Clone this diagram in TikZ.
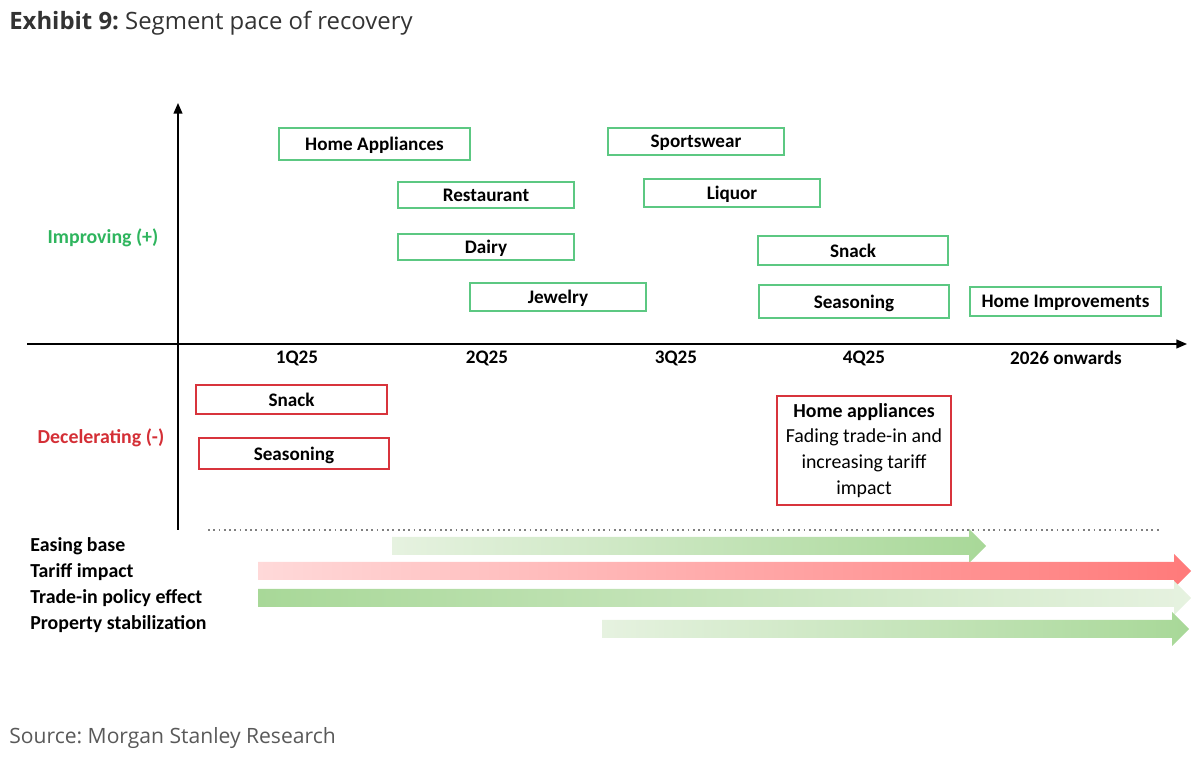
\documentclass[tikz,border=0pt]{standalone}
\usepackage{fontspec}
\setmainfont{Carlito}
\newfontfamily\titlefont{Open Sans}
\usetikzlibrary{arrows.meta}
\frenchspacing
\definecolor{gbox}{HTML}{5CC882}
\definecolor{gtext}{HTML}{2FB55E}
\definecolor{rbox}{HTML}{D8343C}
\definecolor{rtext}{HTML}{D42F36}
\definecolor{gdark}{HTML}{A8D898}
\definecolor{glight}{HTML}{E6F2E0}
\definecolor{rdark}{HTML}{FF7A7A}
\definecolor{rlight}{HTML}{FFD9D9}
\tikzset{
  gbx/.style={draw=gbox, line width=0.9pt, inner sep=0pt, text depth=0pt, font=\fontsize{10.9}{12}\selectfont\bfseries},
  rbx/.style={draw=rbox, line width=0.9pt, inner sep=0pt, text depth=0pt, font=\fontsize{10.9}{12}\selectfont\bfseries},
  qlab/.style={font=\fontsize{10.9}{12}\selectfont\bfseries},
  flab/.style={anchor=west, inner sep=0pt, font=\fontsize{11.3}{12}\selectfont\bfseries},
  axis/.style={line width=0.8pt, -{Triangle[length=6pt,width=5pt]}},
}
\newcommand\fatarrow[5]{%
  \shade[left color=#4, right color=#5]
   (#1,#3-9) -- (#2-17,#3-9) -- (#2-17,#3-17) -- (#2,#3) -- (#2-17,#3+17) -- (#2-17,#3+9) -- (#1,#3+9) -- cycle;}
\begin{document}
\begin{tikzpicture}[x=0.02cm,y=-0.02cm]
\useasboundingbox (0,0) rectangle (1200,759);
% title
\node[anchor=west, inner sep=0pt, text=black!80, font=\titlefont\fontsize{13.6}{15}\selectfont] (title) at (9,23) {\textbf{Exhibit 9:} Segment pace of recovery};
% axes
\coordinate (yb) at (178,530);
\coordinate (yt) at (178,103);
\coordinate (xl) at (27,344);
\coordinate (xr) at (1187,344);
\draw[axis] (yb) -- (yt);
\draw[axis] (xl) -- (xr);
% axis labels
\node[qlab] (q1) at (297,358) {1Q25};
\node[qlab] (q2) at (487,358) {2Q25};
\node[qlab] (q3) at (676,358) {3Q25};
\node[qlab] (q4) at (864,358) {4Q25};
\node[qlab] (q5) at (1066,358) {2026 onwards};
\node[qlab, text=gtext, font=\fontsize{11.3}{12}\selectfont\bfseries] (imp) at (103,238) {Improving (+)};
\node[qlab, text=rtext, font=\fontsize{11.3}{12}\selectfont\bfseries] (dec) at (101,438) {Decelerating (-)};
% green boxes
\node[gbx, minimum width=191*0.02cm, minimum height=32*0.02cm] (ha) at (374.5,144) {Home Appliances};
\node[gbx, minimum width=176*0.02cm, minimum height=26*0.02cm] (rest) at (486,195) {Restaurant};
\node[gbx, minimum width=176*0.02cm, minimum height=26*0.02cm] (dairy) at (486,247) {Dairy};
\node[gbx, minimum width=176*0.02cm, minimum height=28*0.02cm] (jew) at (558,297) {Jewelry};
\node[gbx, minimum width=176*0.02cm, minimum height=27*0.02cm] (sport) at (696,141.5) {Sportswear};
\node[gbx, minimum width=176*0.02cm, minimum height=28*0.02cm] (liq) at (732,193) {Liquor};
\node[gbx, minimum width=190*0.02cm, minimum height=29*0.02cm] (snackg) at (853,250.5) {Snack};
\node[gbx, minimum width=190*0.02cm, minimum height=33*0.02cm] (seasg) at (854,301.5) {Seasoning};
\node[gbx, minimum width=191*0.02cm, minimum height=29*0.02cm] (himp) at (1065.5,301.5) {Home Improvements};
% red boxes
\node[rbx, minimum width=191*0.02cm, minimum height=29*0.02cm] (snackr) at (291.5,399.5) {Snack};
\node[rbx, minimum width=190*0.02cm, minimum height=31*0.02cm] (seasr) at (294,453.5) {Seasoning};
\node[rbx, minimum width=174*0.02cm, minimum height=109*0.02cm, align=center, text depth=, font=\fontsize{11.3}{14.7}\selectfont] (har) at (864,450.5) {\textbf{Home appliances}\\Fading trade-in and\\increasing tariff\\impact};
% dotted separator
\coordinate (d1) at (208,530);
\coordinate (d2) at (1162,530);
\draw[gray, dotted, line width=1pt] (d1) -- (d2);
% factor labels
\node[flab] (f1) at (30,546.5) {Easing base};
\node[flab] (f2) at (30,572.5) {Tariff impact};
\node[flab] (f3) at (30,598.5) {Trade-in policy effect};
\node[flab] (f4) at (30,624.5) {Property stabilization};
% fat arrows
\fatarrow{392}{986}{546}{glight}{gdark}
\fatarrow{258}{1191}{571}{rlight}{rdark}
\fatarrow{258}{1191}{598}{gdark}{glight}
\fatarrow{602}{1189}{629}{glight}{gdark}
% source
\node[anchor=west, inner sep=0pt, text=black!65, font=\titlefont\fontsize{12}{13}\selectfont] (src) at (9,738) {Source: Morgan Stanley Research};
\end{tikzpicture}
\end{document}
